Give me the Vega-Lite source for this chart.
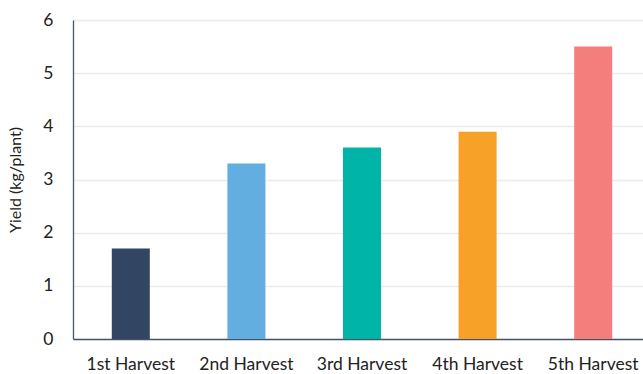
{
  "$schema": "https://vega.github.io/schema/vega-lite/v6.json",
  "autosize": "none",
  "padding": {"left": 73, "top": 20, "right": 0, "bottom": 35},
  "width": 578,
  "height": 319,
  "background": "white",
  "data": {"values": [
    {"harvest": "1st Harvest", "yield": 1.7},
    {"harvest": "2nd Harvest", "yield": 3.3},
    {"harvest": "3rd Harvest", "yield": 3.6},
    {"harvest": "4th Harvest", "yield": 3.9},
    {"harvest": "5th Harvest", "yield": 5.5}
  ]},
  "mark": {"type": "bar"},
  "encoding": {
    "x": {
      "field": "harvest", "type": "nominal", "sort": null,
      "scale": {"paddingInner": 0.671, "paddingOuter": 0.3355},
      "axis": {"title": null, "labelAngle": 0, "labelFont": "Lato", "labelFontSize": 17.5, "labelColor": "#222222", "labelPadding": 16, "ticks": false, "domainColor": "#44546A", "domainWidth": 1.3}
    },
    "y": {
      "field": "yield", "type": "quantitative",
      "scale": {"domain": [0, 6], "nice": false},
      "axis": {"title": "Yield (kg/plant)", "titleFont": "Lato", "titleFontSize": 16, "titleFontWeight": "normal", "titleColor": "#222222", "titlePadding": 19, "tickCount": 6, "labelFont": "Lato", "labelFontSize": 17.5, "labelColor": "#222222", "labelPadding": 20, "ticks": false, "domainColor": "#44546A", "domainWidth": 1.3, "gridColor": "#EBEBEB", "gridWidth": 1.3}
    },
    "color": {
      "field": "harvest", "type": "nominal", "sort": null, "legend": null,
      "scale": {"range": ["#324563", "#63AEE1", "#00B4A7", "#F7A128", "#F47E7B"]}
    }
  },
  "config": {"view": {"stroke": null}}
}
